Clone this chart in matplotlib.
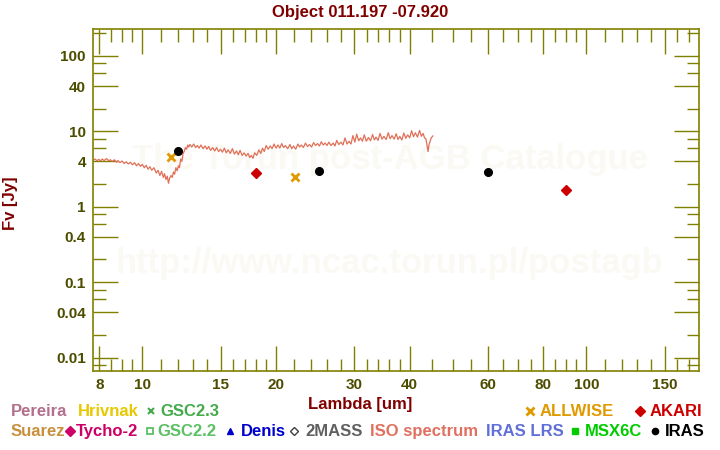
import matplotlib
matplotlib.use('Agg')
import matplotlib.pyplot as plt
from matplotlib.lines import Line2D

plt.rcParams['font.family'] = ['Liberation Sans', 'DejaVu Sans']
plt.rcParams['font.weight'] = 'bold'

# ISO spectrum (um, Jy)
iso_lam = [7.75, 7.82, 7.9, 7.98, 8.05, 8.12, 8.2, 8.3, 8.4, 8.48, 8.55, 8.65, 8.75,
           8.82, 8.9, 9.0, 9.1, 9.2, 9.3, 9.4, 9.5, 9.6, 9.7, 9.8, 9.9,
           10.0, 10.1, 10.2, 10.3, 10.4, 10.5, 10.62, 10.75, 10.85, 10.95, 11.05,
           11.15, 11.22, 11.3, 11.38, 11.45, 11.52, 11.6, 11.68, 11.75, 11.82, 11.9,
           11.98, 12.05, 12.12,
           12.2, 12.28, 12.35, 12.42, 12.5, 12.58, 12.65, 12.72, 12.8, 12.92, 13.05,
           13.18, 13.3, 13.42, 13.55, 13.7, 13.85, 13.98, 14.1, 14.25, 14.4, 14.55,
           14.7, 14.85, 15.0,
           15.15, 15.3, 15.45, 15.6, 15.78, 15.95, 16.12, 16.3, 16.45, 16.6, 16.78,
           16.95, 17.12, 17.3, 17.45, 17.6, 17.75, 17.9, 18.1, 18.3, 18.48, 18.65,
           18.82, 19.0, 19.2,
           19.4, 19.6, 19.8, 20.0, 20.2, 20.4, 20.6, 20.8, 21.0, 21.25, 21.5, 21.7,
           21.9, 22.15, 22.4, 22.6, 22.8, 23.05, 23.3, 23.55, 23.8, 24.05, 24.3,
           24.55, 24.8,
           25.05, 25.3, 25.55, 25.8, 26.05, 26.3, 26.6, 26.9, 27.15, 27.4, 27.7,
           28.0, 28.3, 28.6, 28.9, 29.2, 29.5, 29.8, 30.1, 30.4, 30.7, 31.0, 31.3,
           31.6, 31.95,
           32.3, 32.65, 33.0, 33.3, 33.6, 33.95, 34.3, 34.65, 35.0, 35.4, 35.8,
           36.15, 36.5, 36.9, 37.3, 37.65, 38.0, 38.4, 38.8, 39.2, 39.6, 40.0, 40.4,
           40.8, 41.2,
           41.65, 42.1, 42.5, 42.9, 43.2, 43.5, 43.75, 44.0, 44.2, 44.4, 44.6, 44.8,
           45.1]
iso_flux = [4.15, 4.3, 4.1, 4.25, 4.05, 4.3, 4.1, 4.35, 4.1, 4.2, 4.0, 4.2, 3.9,
            4.1, 3.85, 4.05, 3.75, 3.95, 3.7, 3.9, 3.6, 3.85, 3.5, 3.75, 3.45,
            3.65, 3.3, 3.55, 3.15, 3.4, 3.05, 3.3, 2.8, 3.05, 2.6, 2.95,
            2.45, 2.75, 2.3, 2.55, 2.05, 2.4, 2.6, 2.45, 2.9, 2.7, 3.3,
            3.0, 3.5, 3.3,
            4.3, 4.0, 5.1, 5.4, 6.1, 5.8, 6.6, 6.2, 6.7, 6.2, 6.8,
            6.1, 6.5, 6.0, 6.6, 5.9, 6.4, 5.8, 6.3, 5.6, 6.1, 5.5,
            6.1, 5.4, 5.8,
            5.3, 6.0, 5.2, 5.7, 5.1, 5.9, 5.0, 5.5, 4.9, 5.6, 4.8,
            5.2, 4.7, 5.1, 4.5, 4.8, 4.4, 5.2, 4.8, 5.7, 5.1, 6.0,
            5.4, 6.5, 5.8,
            6.4, 5.9, 6.8, 6.0, 6.6, 6.0, 6.9, 6.1, 6.5, 5.9, 6.7, 5.9,
            6.4, 5.8, 6.8, 6.2, 6.6, 6.1, 7.0, 6.3, 6.7, 6.2, 7.1,
            6.5, 6.9,
            6.4, 7.3, 6.6, 7.0, 6.5, 7.2, 6.5, 7.0, 6.4, 7.6, 6.7,
            7.2, 6.6, 8.2, 6.8, 7.4, 6.8, 8.8, 7.2, 9.2, 7.5, 8.2, 7.4,
            9.0, 7.4,
            8.3, 7.5, 9.1, 7.7, 8.4, 7.6, 9.4, 7.9, 8.6, 7.8, 9.6,
            8.0, 8.8, 7.9, 9.3, 7.8, 8.6, 7.7, 9.5, 8.1, 9.0, 8.2, 10.2,
            8.5, 9.6,
            8.4, 10.3, 8.6, 9.4, 8.2, 8.0, 6.5, 5.4, 6.6, 7.2, 7.8, 8.3,
            8.7]

# photometry
iras_lam = [12, 25, 60]
iras_flux = [5.45, 2.96, 2.87]
akari_lam = [18, 90]
akari_flux = [2.78, 1.66]
allwise_lam = [11.6, 22.1]
allwise_flux = [4.53, 2.46]

x_major = [8, 10, 15, 20, 30, 40, 60, 80, 100, 150]
x_minor = [8.5, 9, 9.5, 11, 12, 13, 14, 16, 17, 18, 19, 22, 24, 26, 28,
           32, 34, 36, 38, 45, 50, 55, 65, 70, 75, 85, 90, 95,
           110, 120, 130, 140, 160, 170]
y_major = [100, 40, 10, 4, 1, 0.4, 0.1, 0.04, 0.01]
y_labels = ['100', '40', '10', '4', '1', '0.4', '0.1', '0.04', '0.01']
y_minor = [200, 80, 60, 20, 8, 6, 2, 0.8, 0.6, 0.2, 0.08, 0.06, 0.02, 0.008]

W, H = 720, 450
DARKRED = '#800000'
OLIVE = '#808000'
LABEL = '#4d4d00'


def fx(px):
    return px / W


def fy(py):
    return 1 - py / H


fig = plt.figure(figsize=(7.2, 4.5), dpi=100)
ax = fig.add_axes([fx(92.7), fy(371), fx(699.3) - fx(92.7), fy(29.3) - fy(371)])
ax.set_xscale('log')
ax.set_yscale('log')
ax.set_xlim(7.73, 179.6)
ax.set_ylim(0.00664, 226)

# watermark
ax.text(0.49, 0.62, 'The Torun post-AGB Catalogue', transform=ax.transAxes,
        fontsize=25, color='#fbf9f3', ha='center', va='center', zorder=0)
ax.text(0.49, 0.315, 'http://www.ncac.torun.pl/postagb', transform=ax.transAxes,
        fontsize=25, color='#fbf9f3', ha='center', va='center', zorder=0)

ax.plot(iso_lam, iso_flux, color='#e07058', lw=0.9, zorder=2)
ax.plot(allwise_lam, allwise_flux, 'x', color='#e09a00', ms=5.5, mew=2, zorder=3)
ax.plot(akari_lam, akari_flux, 'D', color='#cc0000', ms=5.5, zorder=3)
ax.plot(iras_lam, iras_flux, 'o', color='black', ms=5.5, zorder=3)

ax.set_xticks(x_major)
ax.set_xticklabels([str(v) for v in x_major])
ax.set_xticks(x_minor, minor=True)
ax.set_xticklabels([], minor=True)
ax.set_yticks(y_major)
ax.set_yticklabels(y_labels)
ax.set_yticks(y_minor, minor=True)
ax.set_yticklabels([], minor=True)

ax.tick_params(which='both', direction='in', top=True, right=True,
               color=OLIVE, width=1, labelsize=11, labelcolor=LABEL)
ax.tick_params(which='major', length=18, pad=5)
ax.tick_params(which='minor', length=9)
for s in ax.spines.values():
    s.set_color(OLIVE)
    s.set_linewidth(1.2)

fig.text(0.5, fy(16.5), 'Object 011.197 -07.920', fontsize=12, color=DARKRED,
         ha='center', va='baseline')
fig.text(0.5, fy(409.3), 'Lambda [um]', fontsize=12, color=DARKRED,
         ha='center', va='baseline')
fig.text(fx(11), fy(203), 'Fv [Jy]', fontsize=12, color=DARKRED,
         ha='center', va='center', rotation=90)

# legend rows: (text, color, text x, baseline y)
legend_text = [
    ('Pereira', '#b3708c', 11, 416.5),
    ('Hrivnak', '#e8c800', 77.7, 416.5),
    ('GSC2.3', '#44aa4c', 160, 416.5),
    ('ALLWISE', '#e09a00', 540, 416.5),
    ('AKARI', '#cc0000', 649.3, 416.5),
    ('Suarez', '#c8903c', 11, 436),
    ('Tycho-2', '#cc0066', 76, 436),
    ('GSC2.2', '#5cc064', 157, 436),
    ('Denis', '#0000cc', 240.7, 436),
    ('2MASS', '#606060', 305, 436),
    ('ISO spectrum', '#e07060', 370, 436),
    ('IRAS LRS', '#6070d8', 485.7, 436),
    ('MSX6C', '#00cc00', 585, 436),
    ('IRAS', 'black', 665, 436),
]
for txt, col, x, y in legend_text:
    fig.text(fx(x), fy(y), txt, fontsize=12, color=col, ha='left', va='baseline')

# legend glyphs: (marker, color, filled, x, y, size, edge width)
legend_marks = [
    ('x', '#44aa4c', True, 150.7, 411, 4, 1.5),
    ('x', '#e09a00', True, 530, 411, 6, 2),
    ('D', '#cc0000', True, 640, 411, 5, 1),
    ('D', '#cc0066', True, 70, 431, 5, 1),
    ('s', '#5cc064', False, 150, 431, 4, 1.3),
    ('^', '#0000cc', True, 230, 431, 5, 1),
    ('D', '#404040', False, 294.3, 431, 4.5, 1),
    ('s', '#00cc00', True, 575, 431, 5, 1),
    ('o', 'black', True, 655, 431, 4.5, 1),
]
for m, col, filled, x, y, size, mew in legend_marks:
    fig.add_artist(Line2D([fx(x)], [fy(y)], marker=m, ms=size, mew=mew,
                          color=col, mfc=col if filled else 'white',
                          transform=fig.transFigure))

fig.savefig('out.png', dpi=100)
